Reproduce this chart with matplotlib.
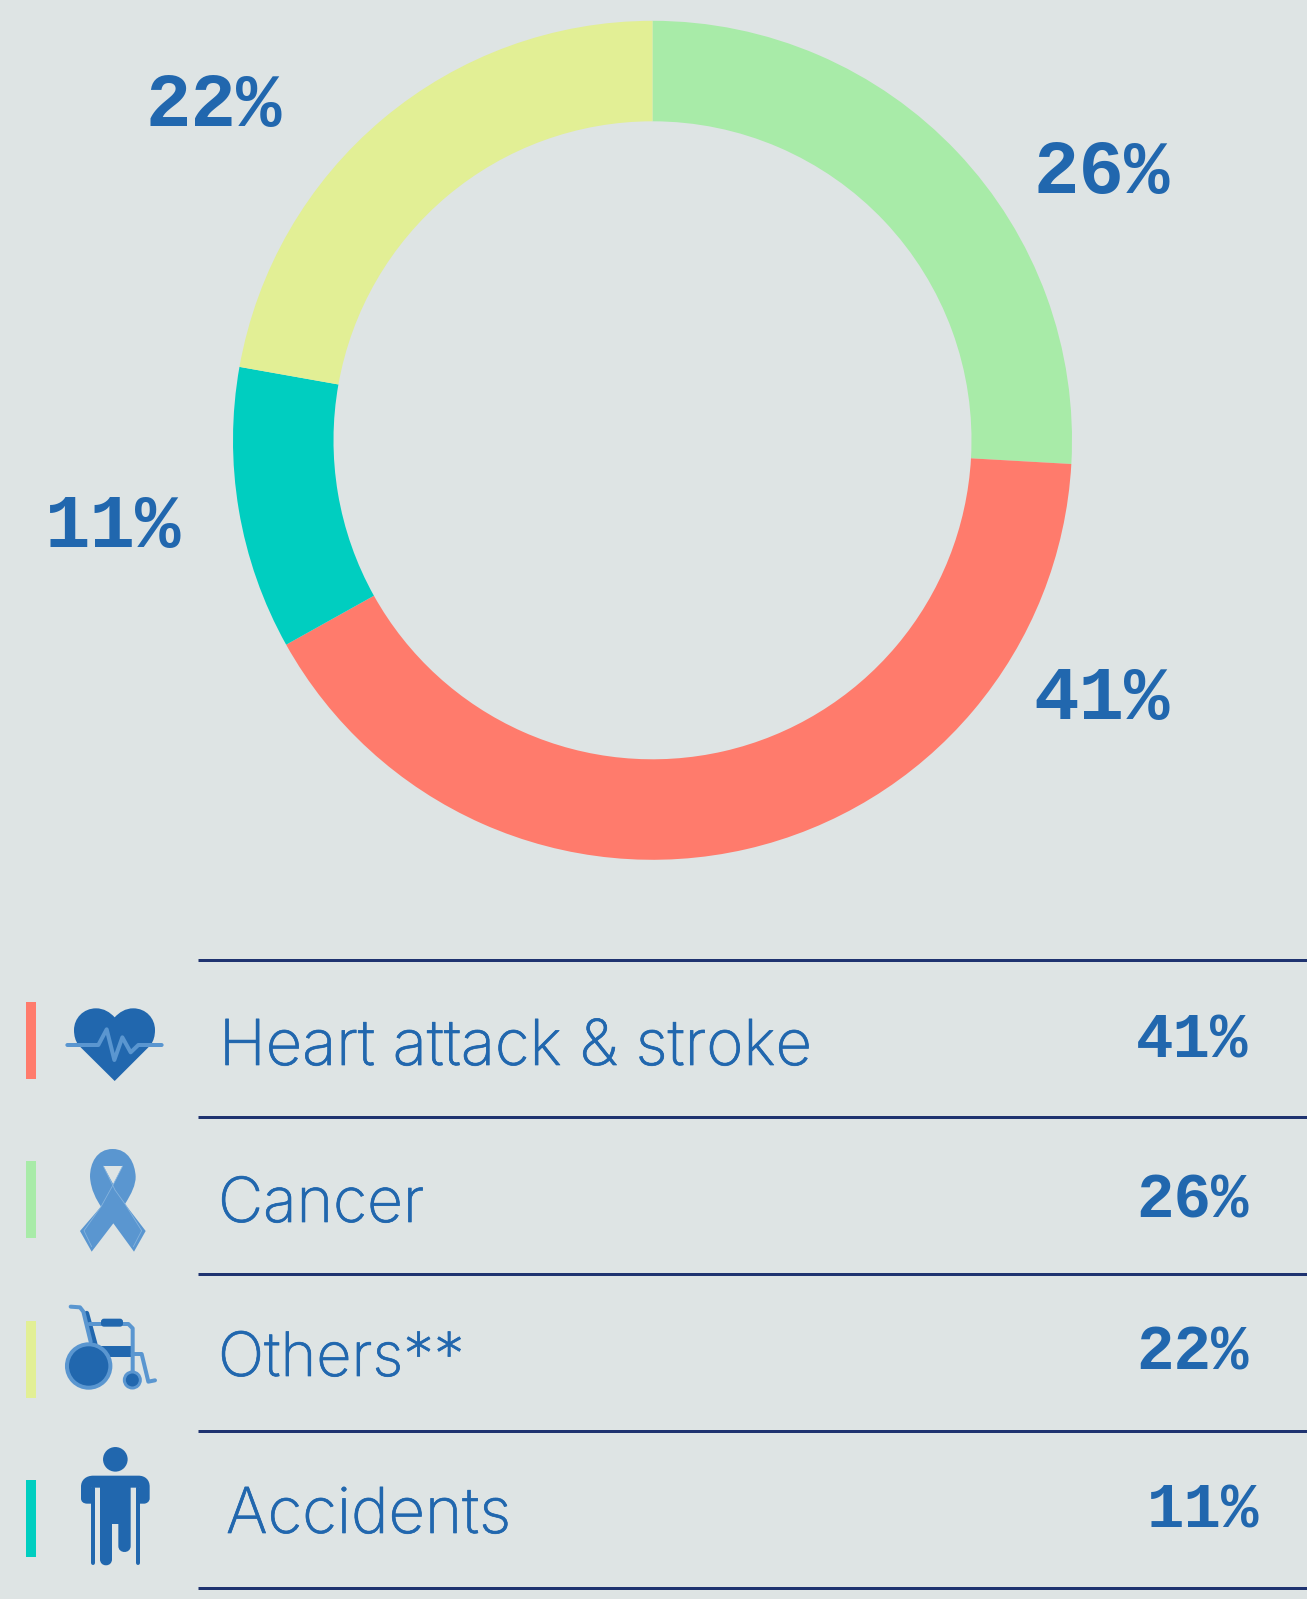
import matplotlib
matplotlib.use('Agg')
import matplotlib.pyplot as plt
import matplotlib.patheffects as pe
from matplotlib.path import Path
from matplotlib.patches import PathPatch, Circle, Rectangle, FancyBboxPatch

# Datos
categorias = ['Heart attack & stroke', 'Cancer', 'Others**', 'Accidents']
valores = [41, 26, 22, 11]
partes = [41.0, 25.9, 22.2, 10.9]  # slice sizes as measured on the ring
colores = ['#FF7B6C', '#A8EBA8', '#E2EF95', '#00CEC0']
orden_dona = [1, 0, 3, 2]  # clockwise from the top

W, H = 1307, 1599
bg, azul, claro, linea = '#DEE4E4', '#2167AE', '#5A96D0', '#1F3370'

fig = plt.figure(figsize=(W/100, H/100), dpi=100, facecolor=bg)

# Dona
cx, cy, R, r = 652.5, 440.3, 419.5, 319
ax1 = fig.add_axes([(cx-R)/W, 1-(cy+R)/H, 2*R/W, 2*R/H])
ax1.pie([partes[i] for i in orden_dona], colors=[colores[i] for i in orden_dona],
        startangle=90, counterclock=False, radius=1,
        wedgeprops=dict(width=(R-r)/R, linewidth=0))
ax1.set_xlim(-1, 1); ax1.set_ylim(-1, 1)

# Everything else in pixel coordinates
ax = fig.add_axes([0, 0, 1, 1], facecolor='none')
ax.set_xlim(0, W); ax.set_ylim(H, 0); ax.axis('off')

px = 0.72  # 1 px in points at 100 dpi
mono = dict(family='Liberation Mono', weight='bold', color=azul, va='baseline')

# Etiquetas de la dona
etq_x = [1033, 1033, 145, 45]
etq_y = [719, 193, 126, 547]
for v, x, y in zip(valores, etq_x, etq_y):
    ax.text(x, y, f'{v}%', fontsize=54.5, **mono)

# Tabla
lineas_y = [960, 1117, 1274, 1431, 1588]
for y in lineas_y:
    ax.plot([198, W], [y, y], color=linea, lw=3*px, solid_capstyle='butt')

barras_y = [1002, 1161, 1321, 1480]
texto_x = [219, 218, 218, 226]
texto_y = [1065, 1222, 1376, 1533]
tamano_texto = [45.6, 44.8, 44, 45.6]
valor_x = [1136, 1136, 1136, 1147]
valor_y = [1058, 1217, 1370, 1528]
for i in range(4):
    ax.add_patch(Rectangle((26, barras_y[i]), 10, 77, color=colores[i], lw=0))
    t = ax.text(texto_x[i], texto_y[i], categorias[i], fontsize=tamano_texto[i], family='Inter',
                weight='light', color=azul, va='baseline')
    t.set_path_effects([pe.withStroke(linewidth=0.5, foreground=azul)])
    ax.text(valor_x[i], valor_y[i], f'{valores[i]}%', fontsize=45, **mono)


def pts(lista, y0):
    return [(x/3, y0 + y/3) for x, y in lista]


def trazo(lista, y0, color=claro, lw=4, cap='round'):
    p = pts(lista, y0)
    ax.plot([a for a, b in p], [b for a, b in p], color=color, lw=lw*px,
            solid_capstyle=cap, solid_joinstyle='round')


def forma(lista, codigos, y0, color):
    ax.add_patch(PathPatch(Path(pts(lista, y0), codigos), fc=color, ec='none', lw=0))


M, L, C = Path.MOVETO, Path.LINETO, Path.CURVE4

# Corazon
forma([(344, 393), (235, 285), (226, 272), (222, 258), (222, 240), (222, 205), (250, 175), (288, 175),
       (312, 175), (330, 187), (344, 202), (358, 187), (376, 175), (400, 175),
       (438, 175), (465, 205), (465, 240), (465, 258), (461, 272), (452, 285), (344, 393)],
      [M, L, C, C, C, C, C, C, C, C, C, C, C, C, C, C, C, C, C, C, L], 950, azul)
trazo([(202, 285), (295, 285), (320, 238), (343, 330), (367, 262), (392, 307), (415, 285), (485, 285)], 950)

# Lazo
forma([(402, 905), (437, 843), (375, 762), (395, 730), (407, 705), (407, 680),
       (405, 640), (385, 597), (338, 597), (290, 597), (270, 640), (270, 680),
       (272, 720), (290, 750), (303, 770), (240, 843), (275, 905), (340, 820), (402, 905),
       (310, 648), (368, 648), (340, 703), (310, 648)],
      [M, L, L, C, C, C, C, C, C, C, C, C, C, C, L, L, L, L, L, M, L, L, L], 950, claro)
trazo([(368, 648), (340, 703), (303, 770), (252, 842), (275, 890)], 950, color='#86B4DE', lw=0.8)
trazo([(310, 648), (345, 720), (375, 762), (425, 842), (400, 890)], 950, color='#86B4DE', lw=0.8)

# Silla de ruedas
trazo([(260, 130), (285, 222)], 1270, color=azul, lw=5)
forma([(300, 228), (393, 228), (393, 262), (330, 262)], [M, L, L, L], 1270, azul)
trazo([(212, 110), (240, 112), (250, 125), (272, 215)], 1270)
trazo([(268, 162), (385, 162), (398, 175), (398, 320)], 1270)
trazo([(398, 252), (425, 252), (445, 335), (465, 331)], 1270)
ax.add_patch(FancyBboxPatch((104, 1270+155/3), 16, 2, boxstyle='round,pad=3', fc=azul, ec='none', zorder=3))
ax.add_patch(Circle((266/3, 1270+288/3), 21.7, fc=azul, ec=claro, lw=4*px, zorder=3))
ax.add_patch(Circle((397/3, 1270+330/3), 8, fc=azul, ec=claro, lw=3*px, zorder=3))

# Persona
ax.add_patch(Circle((346/3, 1270+568/3), 12.3, fc=azul, ec='none'))
forma([(243, 685), (243, 650), (243, 630), (258, 617), (280, 617), (415, 617),
       (436, 617), (449, 630), (449, 650), (449, 685), (449, 695), (440, 701), (432, 701),
       (420, 701), (420, 653), (392, 653), (392, 828), (392, 852), (355, 852), (355, 828),
       (355, 762), (336, 762), (336, 868), (336, 892), (300, 892), (300, 868),
       (300, 653), (273, 653), (273, 701), (262, 701), (250, 701), (243, 695), (243, 685)],
      [M, L, C, C, C, L, C, C, C, L, C, C, C, L, L, L, L, C, C, C, L, L, L, C, C, C,
       L, L, L, L, C, C, C], 1270, azul)
trazo([(279, 655), (279, 878)], 1270, color=azul, lw=4)
trazo([(413, 655), (413, 878)], 1270, color=azul, lw=4)

fig.savefig('out.png', dpi=100, facecolor=bg)
